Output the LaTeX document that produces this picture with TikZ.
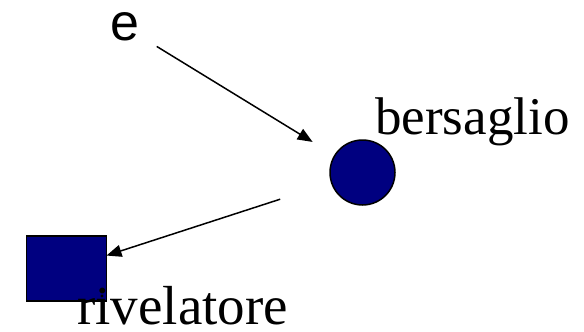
\documentclass[tikz,border=0pt]{standalone}
\usepackage{fontspec}
\setmainfont{Liberation Serif}
\newfontfamily\labsans{Liberation Sans}
\usetikzlibrary{arrows.meta,positioning}
\definecolor{navyfill}{RGB}{0,0,128}
\tikzset{
  bodyshape/.style={draw=black,line width=1.5pt,fill=navyfill,inner sep=0pt,outer sep=0pt},
  beam/.style={-{Triangle[length=15pt,width=12pt]},line width=1.5pt,draw=black},
  lab/.style={font=\fontsize{53}{60}\selectfont,inner sep=0pt}
}
\begin{document}
\begin{tikzpicture}[x=1pt,y=-1pt]
  \useasboundingbox (0,0) rectangle (584,332);
  % particle, target, detector
  \node[lab,font=\labsans\fontsize{52}{60}\selectfont] (e) at (125,27) {e};
  \node[bodyshape,circle,minimum size=65pt] (target) at (362.5,172.5) {};
  \node[bodyshape,rectangle,minimum width=80pt,minimum height=65pt] (detector) at (66.5,268.5) {};
  \fill (102,296) circle (1.6pt);
  \node[lab,anchor=base west] (targetlab) at (375,134) {bersaglio};
  \node[lab,font=\fontsize{55}{60}\selectfont,anchor=base west] (detectorlab) at (77,324) {rivelatore};
  % beams
  \draw[beam,shorten <=20pt,shorten >=26pt] (e) -- (target);
  \draw[beam,shorten <=54pt] (target) -- (detector);
\end{tikzpicture}
\end{document}
